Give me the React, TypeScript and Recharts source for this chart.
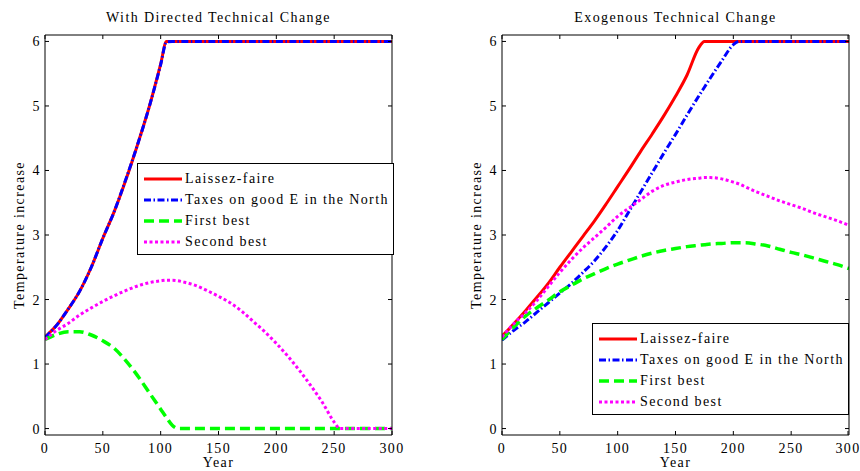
import { LineChart, Line, XAxis, YAxis, Legend } from 'recharts';

// Left panel: with directed technical change
const leftYears = [0, 10, 20, 30, 40, 50, 60, 70, 80, 90, 100, 105, 110, 115, 120, 130, 140, 150, 160, 170, 180, 190, 200, 210, 220, 230, 240, 250, 255, 260, 270, 280, 290, 300];
const leftLaissez = [1.42, 1.6, 1.85, 2.13, 2.5, 2.95, 3.37, 3.86, 4.4, 4.98, 5.65, 6, 6, 6, 6, 6, 6, 6, 6, 6, 6, 6, 6, 6, 6, 6, 6, 6, 6, 6, 6, 6, 6, 6];
const leftTaxes = [1.41, 1.6, 1.85, 2.13, 2.5, 2.95, 3.37, 3.87, 4.4, 4.98, 5.64, 5.99, 6, 6, 6, 6, 6, 6, 6, 6, 6, 6, 6, 6, 6, 6, 6, 6, 6, 6, 6, 6, 6, 6];
const leftFirst = [1.38, 1.46, 1.5, 1.5, 1.45, 1.36, 1.24, 1.05, 0.82, 0.56, 0.3, 0.17, 0.05, 0, 0, 0, 0, 0, 0, 0, 0, 0, 0, 0, 0, 0, 0, 0, 0, 0, 0, 0, 0, 0];
const leftSecond = [1.38, 1.52, 1.63, 1.76, 1.87, 1.97, 2.06, 2.14, 2.21, 2.26, 2.29, 2.3, 2.3, 2.29, 2.27, 2.22, 2.14, 2.05, 1.95, 1.82, 1.66, 1.5, 1.32, 1.12, 0.9, 0.66, 0.4, 0.1, 0, 0, 0, 0, 0, 0];

// Right panel: exogenous technical change
const rightYears = [0, 10, 20, 30, 40, 50, 60, 70, 80, 90, 100, 110, 120, 130, 140, 150, 160, 170, 175, 180, 190, 200, 205, 210, 220, 230, 240, 250, 260, 270, 280, 290, 300];
const rightLaissez = [1.43, 1.62, 1.82, 2.03, 2.25, 2.5, 2.74, 2.98, 3.22, 3.48, 3.75, 4.02, 4.3, 4.57, 4.85, 5.15, 5.48, 5.9, 6, 6, 6, 6, 6, 6, 6, 6, 6, 6, 6, 6, 6, 6, 6];
const rightTaxes = [1.37, 1.52, 1.65, 1.8, 1.95, 2.1, 2.25, 2.42, 2.6, 2.82, 3.07, 3.37, 3.67, 3.97, 4.27, 4.56, 4.86, 5.15, 5.29, 5.43, 5.7, 5.95, 6, 6, 6, 6, 6, 6, 6, 6, 6, 6, 6];
const rightFirst = [1.38, 1.57, 1.74, 1.87, 1.99, 2.12, 2.22, 2.32, 2.4, 2.48, 2.55, 2.61, 2.67, 2.72, 2.76, 2.79, 2.82, 2.84, 2.85, 2.86, 2.87, 2.88, 2.88, 2.88, 2.86, 2.83, 2.78, 2.73, 2.69, 2.64, 2.59, 2.54, 2.48];
const rightSecond = [1.42, 1.62, 1.79, 1.98, 2.2, 2.42, 2.62, 2.8, 2.96, 3.12, 3.29, 3.42, 3.55, 3.68, 3.77, 3.82, 3.86, 3.88, 3.89, 3.89, 3.87, 3.82, 3.79, 3.75, 3.67, 3.6, 3.53, 3.47, 3.41, 3.34, 3.28, 3.22, 3.15];

const xTicks = [0, 50, 100, 150, 200, 250, 300];
const yTicks = [0, 1, 2, 3, 4, 5, 6];

const FONT = '"Liberation Serif", "DejaVu Serif", serif';

const series = [
  { key: 'lf', name: 'Laissez-faire', color: '#ff0000', dash: undefined, width: 3 },
  { key: 'tax', name: 'Taxes on good E in the North', color: '#0000ff', dash: '7 2.5 1.5 2.5', width: 3 },
  { key: 'fb', name: 'First best', color: '#00ff00', dash: '10 5', width: 3.5 },
  { key: 'sb', name: 'Second best', color: '#ff00ff', dash: '3 2.5', width: 3 },
];

const textStyle = { fontFamily: FONT, fontSize: 14, letterSpacing: 1.4, fill: '#000' };

const BottomTick = (props: any) => {
  const { x, y, payload } = props;
  return (
    <g>
      <line x1={x} y1={y} x2={x} y2={y - 4} stroke="#000" />
      <text x={x} y={y + 18} textAnchor="middle" style={textStyle}>{payload.value}</text>
    </g>
  );
};

const TopTick = (props: any) => {
  const { x, y } = props;
  return <line x1={x} y1={y} x2={x} y2={y + 4} stroke="#000" />;
};

const LeftTick = (props: any) => {
  const { x, y, payload } = props;
  return (
    <g>
      <line x1={x} y1={y} x2={x + 4} y2={y} stroke="#000" />
      <text x={x - 4} y={y + 5} textAnchor="end" style={textStyle}>{payload.value}</text>
    </g>
  );
};

const RightTick = (props: any) => {
  const { x, y } = props;
  return <line x1={x} y1={y} x2={x - 4} y2={y} stroke="#000" />;
};

const LegendBox = () => (
  <div style={{ border: '1px solid #000', background: '#fff', padding: '4px 0 2px 5px', width: 250, boxSizing: 'content-box' }}>
    {series.map((s) => (
      <div key={s.key} style={{ display: 'flex', alignItems: 'center', height: 21 }}>
        <svg width={40} height={8}>
          <line x1={1} y1={4} x2={39} y2={4} stroke={s.color} strokeWidth={s.width} strokeDasharray={s.dash} />
        </svg>
        <span style={{ fontFamily: FONT, fontSize: 14, letterSpacing: 1.4, marginLeft: 2, color: '#000', whiteSpace: 'nowrap' }}>{s.name}</span>
      </div>
    ))}
  </div>
);

type PanelProps = {
  title: string;
  years: number[];
  lf: number[];
  tax: number[];
  fb: number[];
  sb: number[];
  marginLeft: number;
  marginRight: number;
  legendLeft: number;
  legendTop: number;
};

const Panel = ({ title, years, lf, tax, fb, sb, marginLeft, marginRight, legendLeft, legendTop }: PanelProps) => {
  const data = years.map((year, i) => ({ year, lf: lf[i], tax: tax[i], fb: fb[i], sb: sb[i] }));
  return (
    <LineChart width={430} height={471} data={data} margin={{ top: 34, right: marginRight, bottom: 35, left: marginLeft }}>
      <XAxis
        dataKey="year"
        type="number"
        domain={[0, 300]}
        allowDataOverflow
        ticks={xTicks}
        height={1}
        tickSize={0}
        tickMargin={0}
        tick={<BottomTick />}
        axisLine={{ stroke: '#000' }}
        label={{
          content: (p: any) => (
            <text x={p.viewBox.x + p.viewBox.width / 2} y={p.viewBox.y + 32} textAnchor="middle" style={textStyle}>Year</text>
          ),
        }}
      />
      <XAxis
        xAxisId="top"
        dataKey="year"
        orientation="top"
        type="number"
        domain={[0, 300]}
        allowDataOverflow
        ticks={xTicks}
        height={1}
        tickSize={0}
        tickMargin={0}
        tick={<TopTick />}
        axisLine={{ stroke: '#000' }}
        label={{
          content: (p: any) => (
            <text x={p.viewBox.x + p.viewBox.width / 2} y={p.viewBox.y - 12} textAnchor="middle" style={textStyle}>{title}</text>
          ),
        }}
      />
      <YAxis
        type="number"
        domain={[-0.1, 6.1]}
        allowDataOverflow
        ticks={yTicks}
        width={1}
        tickSize={0}
        tickMargin={0}
        tick={<LeftTick />}
        axisLine={{ stroke: '#000' }}
        label={{
          content: (p: any) => {
            const cx = p.viewBox.x - 25;
            const cy = p.viewBox.y + p.viewBox.height / 2;
            return (
              <text x={cx} y={cy} textAnchor="middle" dominantBaseline="central" transform={`rotate(-90 ${cx} ${cy})`} style={textStyle}>
                Temperature increase
              </text>
            );
          },
        }}
      />
      <YAxis
        yAxisId="right"
        orientation="right"
        type="number"
        domain={[-0.1, 6.1]}
        allowDataOverflow
        ticks={yTicks}
        width={1}
        tickSize={0}
        tickMargin={0}
        tick={<RightTick />}
        axisLine={{ stroke: '#000' }}
      />
      {series.map((s) => (
        <Line
          key={s.key}
          type="monotone"
          dataKey={s.key}
          stroke={s.color}
          strokeWidth={s.width}
          strokeDasharray={s.dash}
          dot={false}
          activeDot={false}
          isAnimationActive={false}
        />
      ))}
      <Legend
        layout="vertical"
        align="center"
        verticalAlign="middle"
        wrapperStyle={{ left: legendLeft, top: legendTop, width: 256 }}
        content={() => <LegendBox />}
      />
    </LineChart>
  );
};

export default function App() {
  return (
    <div style={{ position: 'absolute', left: 0, top: 0, width: 860, height: 471, background: '#fff' }}>
      <div style={{ position: 'absolute', left: 0, top: 0 }}>
        <Panel
          title="With Directed Technical Change"
          years={leftYears}
          lf={leftLaissez}
          tax={leftTaxes}
          fb={leftFirst}
          sb={leftSecond}
          marginLeft={44}
          marginRight={37}
          legendLeft={137}
          legendTop={163}
        />
      </div>
      <div style={{ position: 'absolute', left: 430, top: 0 }}>
        <Panel
          title="Exogenous Technical Change"
          years={rightYears}
          lf={rightLaissez}
          tax={rightTaxes}
          fb={rightFirst}
          sb={rightSecond}
          marginLeft={71}
          marginRight={10}
          legendLeft={162}
          legendTop={323}
        />
      </div>
    </div>
  );
}
